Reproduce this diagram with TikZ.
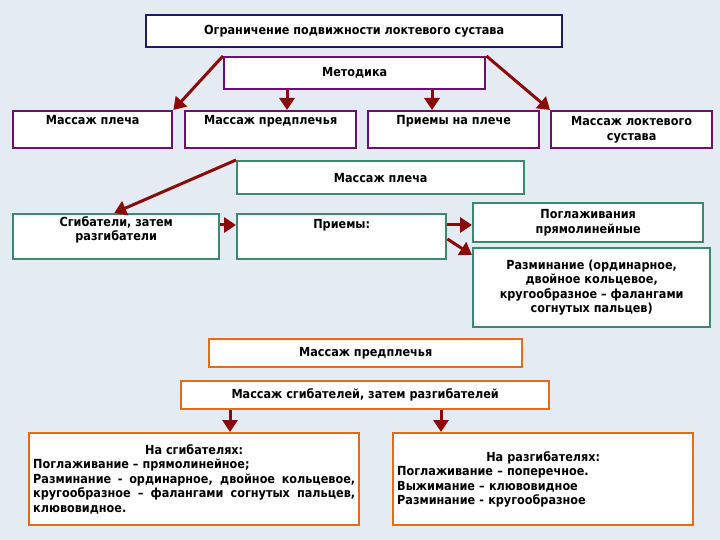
\documentclass[tikz,border=0pt]{standalone}
\usepackage{fontspec}
\setmainfont{DejaVu Sans Condensed}
\usetikzlibrary{arrows.meta}
\definecolor{bg}{HTML}{E4EBF2}
\definecolor{navy}{HTML}{1F1A6E}
\definecolor{purp}{HTML}{6E0F6E}
\definecolor{grn}{HTML}{3C8A6E}
\definecolor{org}{HTML}{E86A14}
\definecolor{arr}{HTML}{8B0A0A}
\tikzset{
 box/.style={draw, line width=2.4pt, fill=white, anchor=north west, inner sep=2pt, font=\bfseries\fontsize{12.5}{14.5}\selectfont, align=center},
 ar/.style={draw=arr, line width=3pt, -{Triangle[length=12pt,width=15pt]}}
}
\begin{document}
\begin{tikzpicture}[x=1pt,y=-1pt]
\fill[bg] (0,0) rectangle (720,540);
\useasboundingbox (0,0) rectangle (720,540);
\node[box,draw=navy,minimum width=416pt,minimum height=32pt] (t) at (145,14) {Ограничение подвижности локтевого сустава};
\node[box,draw=purp,minimum width=261pt,minimum height=32pt] (m) at (223,56) {Методика};
\node[box,draw=purp,minimum width=159pt,minimum height=37pt] (a1) at (12,110) {Массаж плеча\\[6pt]};
\node[box,draw=purp,minimum width=171pt,minimum height=37pt] (a2) at (184,110) {Массаж предплечья\\[6pt]};
\node[box,draw=purp,minimum width=171pt,minimum height=37pt] (a3) at (367,110) {Приемы на плече\\[6pt]};
\node[box,draw=purp,minimum width=161pt,minimum height=37pt] (a4) at (550,110) {Массаж локтевого\\сустава};
\node[box,draw=grn,minimum width=287pt,minimum height=33pt] (p) at (236,160) {Массаж плеча};
\node[box,draw=grn,minimum width=206pt,minimum height=45pt] (s) at (12,213) {Сгибатели, затем\\разгибатели\\[2pt]};
\node[box,draw=grn,minimum width=209pt,minimum height=45pt] (pr) at (236,213) {Приемы:\\[12pt]};
\node[box,draw=grn,minimum width=230pt,minimum height=39pt] (g) at (472,202) {Поглаживания\\прямолинейные};
\node[box,draw=grn,minimum width=237pt,minimum height=79pt] (r) at (472,247) {Разминание (ординарное,\\двойное кольцевое,\\кругообразное – фалангами\\согнутых пальцев)};
\node[box,draw=org,minimum width=313pt,minimum height=28pt] (f) at (208,338) {Массаж предплечья};
\node[box,draw=org,minimum width=368pt,minimum height=28pt] (fs) at (180,380) {Массаж сгибателей, затем разгибателей};
\node[box,draw=org,minimum width=330pt,minimum height=92pt,text width=322pt,align=justify] (l) at (28,432) {\hfill На сгибателях:\hfill\null\\Поглаживание – прямолинейное;\\Разминание - ординарное, двойное кольцевое, кругообразное – фалангами согнутых пальцев, клювовидное.};
\node[box,draw=org,minimum width=300pt,minimum height=92pt,text width=292pt,align=left] (rr) at (392,432) {\hfill На разгибателях:\hfill\null\\Поглаживание – поперечное.\\Выжимание – клювовидное\\Разминание - кругообразное\\[14pt]};
\draw[ar] (m.north west) -- (a1.north east);
\draw[ar] (m.north east) -- (a4.north west);
\path (m.south west) +(64,0) coordinate (c1);
\path (m.south west) +(209,0) coordinate (c2);
\draw[ar] (c1) -- (c1 |- a2.north);
\draw[ar] (c2) -- (c2 |- a3.north);
\draw[ar] (p.north west) -- ([xshift=-2pt]s.north);
\draw[ar] ([yshift=-12pt]s.north east) -- ([yshift=-12pt]pr.north west);
\path ([yshift=-12pt]pr.north east) coordinate (c3);
\draw[ar] (c3) -- (c3 -| g.west);
\draw[ar] ([yshift=-26pt]pr.north east) -- ([yshift=-8pt]r.north west);
\path ([xshift=50pt]fs.south west) coordinate (c4);
\path ([xshift=261pt]fs.south west) coordinate (c5);
\draw[ar] (c4) -- (c4 |- l.north);
\draw[ar] (c5) -- (c5 |- rr.north);
\end{tikzpicture}
\end{document}
